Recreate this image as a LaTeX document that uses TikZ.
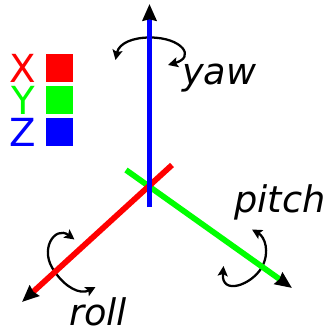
\documentclass[tikz,border=0pt]{standalone}
\usepackage{fontspec}
\setmainfont{DejaVu Sans}
\usetikzlibrary{arrows.meta}
\definecolor{axisRed}{HTML}{ff0000}
\definecolor{axisGreen}{HTML}{00ff00}
\definecolor{axisBlue}{HTML}{0000ff}

\begin{document}
\begin{tikzpicture}[x=0.75pt, y=-0.75pt,
  axisline/.style={line width=4.3pt, -{Stealth[length=12.5pt, width=10.5pt, inset=1pt, color=black]}},
  turn/.style={line width=1.7pt, black, {Stealth[length=7.5pt, width=7.5pt, inset=1.5pt]}-{Stealth[length=7.5pt, width=7.5pt, inset=1.5pt]}},
  swatch/.style={minimum width=20.6pt, minimum height=21pt, inner sep=0pt, outer sep=0pt},
  letter/.style={font=\fontsize{29}{29}\selectfont, inner sep=0pt, anchor=base},
  motion/.style={font=\fontsize{27.5}{27.5}\selectfont\itshape, inner sep=0pt, anchor=base west}]
\useasboundingbox (0,0) rectangle (324,331);

% legend
\node[swatch, fill=axisRed] (redbox) at (59.5,68.5) {};
\node[swatch, fill=axisGreen] (greenbox) at (59.5,100.2) {};
\node[swatch, fill=axisBlue] (bluebox) at (59.5,132.5) {};
\node[letter, text=axisRed] (xlabel) at (23,82.5) {X};
\node[letter, text=axisGreen] (ylabel) at (23,114.3) {Y};
\node[letter, text=axisBlue] (zlabel) at (23,146.5) {Z};

% rotation arrows go under the axes
\coordinate (yawtop) at (150,37.5);
\coordinate (pitchmid) at (262,267);
\coordinate (rollmid) at (55,272);
\draw[turn] (168,65) .. controls (196,57) and (182,37.5) .. (yawtop)
  .. controls (133,37.5) and (119,43) .. (115.5,60);
\draw[turn] (223.5,266) .. controls (221,296) and (252,285) .. (pitchmid)
  .. controls (270,252) and (265,237) .. (252,229.5);
\draw[turn] (74.5,239.5) .. controls (55,225) and (38,250) .. (rollmid)
  .. controls (65,287) and (80,295) .. (95.5,287);

% axes
\coordinate (zfoot) at (149.5,207);
\coordinate (ztip) at (149.5,4);
\coordinate (yfoot) at (126,170);
\coordinate (ytip) at (292,288);
\coordinate (xfoot) at (172,165);
\coordinate (xtip) at (22,302);
\draw[axisline, axisGreen] (yfoot) -- (ytip);
\draw[axisline, axisRed] (xfoot) -- (xtip);
\draw[axisline, axisBlue] (zfoot) -- (ztip);

\node[motion] (yaw) at (182,85) {yaw};
\node[motion] (pitch) at (234,212.5) {pitch};
\node[motion] (roll) at (69,325) {roll};
\end{tikzpicture}
\end{document}
